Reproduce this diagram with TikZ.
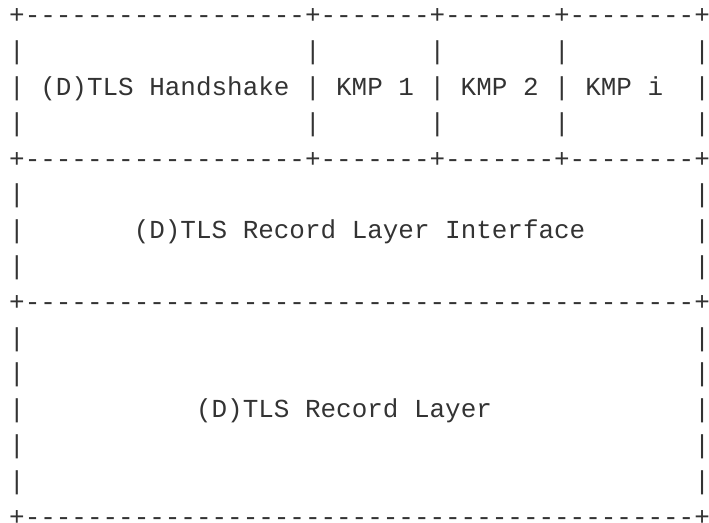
\documentclass[tikz,border=0pt]{standalone}
\usepackage{fontspec}
\setmonofont{Liberation Mono}
\ExplSyntaxOn
% repeat a character n times, each in its own group so no ligatures form
\NewDocumentCommand\rep{mm}{\prg_replicate:nn{#1}{{#2}}}
\ExplSyntaxOff
\definecolor{ink}{RGB}{51,51,51}
\tikzset{
  row/.style={anchor=base west, inner sep=0pt, outer sep=0pt, text=ink,
    font=\ttfamily\fontsize{25.95}{30}\selectfont},
}
% one text row of the layer diagram, placed on a fixed line grid
\newcommand\asciirow[3]{\node[row] (#1) at (9.2, {498-(#2-1)*35.8}) {#3};}
\newcommand\topedge{+\rep{18}{-}+\rep{7}{-}+\rep{7}{-}+\rep{8}{-}+}
\newcommand\topside{|\rep{18}{~}|\rep{7}{~}|\rep{7}{~}|\rep{8}{~}|}
\newcommand\fulledge{+\rep{43}{-}+}
\newcommand\fullside{|\rep{43}{~}|}
\begin{document}
\begin{tikzpicture}[x=1pt,y=1pt]
  \useasboundingbox (0,0) rectangle (709,522);
  % handshake and key management protocols
  \asciirow{r1}{1}{\topedge}
  \asciirow{r2}{2}{\topside}
  \asciirow{r3}{3}{|~(D)TLS~Handshake~|~KMP~1~|~KMP~2~|~KMP~i~~|}
  \asciirow{r4}{4}{\topside}
  \asciirow{r5}{5}{\topedge}
  % record layer interface
  \asciirow{r6}{6}{\fullside}
  \asciirow{r7}{7}{|\rep{7}{~}(D)TLS~Record~Layer~Interface\rep{7}{~}|}
  \asciirow{r8}{8}{\fullside}
  \asciirow{r9}{9}{\fulledge}
  % record layer
  \asciirow{r10}{10}{\fullside}
  \asciirow{r11}{11}{\fullside}
  \asciirow{r12}{12}{|\rep{11}{~}(D)TLS~Record~Layer\rep{13}{~}|}
  \asciirow{r13}{13}{\fullside}
  \asciirow{r14}{14}{\fullside}
  \asciirow{r15}{15}{\fulledge}
\end{tikzpicture}
\end{document}
